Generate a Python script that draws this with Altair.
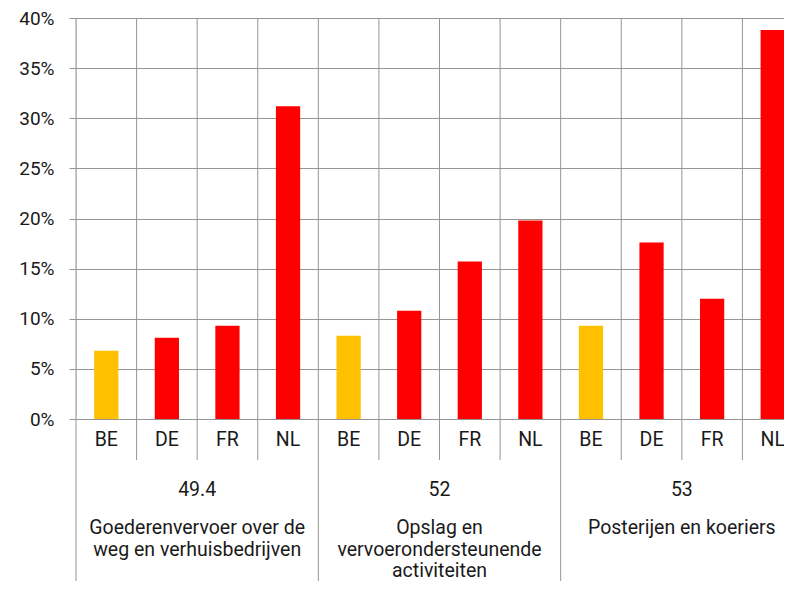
import altair as alt
import pandas as pd

# ---- data ----
group_codes = ["49.4", "52", "53"]
group_names = [
    "Goederenvervoer over de\nweg en verhuisbedrijven",
    "Opslag en\nvervoerondersteunende\nactiviteiten",
    "Posterijen en koeriers",
]
countries = ["BE", "DE", "FR", "NL"]
share_494 = [6.8, 8.1, 9.3, 31.2]
share_52 = [8.3, 10.8, 15.7, 19.8]
share_53 = [9.3, 17.6, 12.0, 38.8]
country_colors = ["#FFC000", "#FF0000", "#FF0000", "#FF0000"]
y_ticks = [0, 5, 10, 15, 20, 25, 30, 35, 40]

# ---- tables ----
rows = []
for code, vals in zip(group_codes, [share_494, share_52, share_53]):
    for c, v in zip(countries, vals):
        rows.append({"key": f"{code}|{c}", "group": code, "country": c, "value": v})
bars_df = pd.DataFrame(rows)
keys = list(bars_df["key"])
n = len(keys)
per_group = len(countries)

bound_df = pd.DataFrame({"idx": list(range(n + 1))})
bound_df["group_start"] = bound_df["idx"] % per_group == 0

groups_df = pd.DataFrame({
    "center": [i * per_group + per_group / 2 for i in range(len(group_codes))],
    "code": group_codes,
    "name": [s.split("\n") for s in group_names],
})

# visible plot area (page must not overflow); the category scale runs past the right edge
W, H = 708, 401
FULL_W = 727
FONT = "Roboto"
TXT = "#1a1a1a"
GRID = "#959595"

xq = alt.X("idx:Q", scale=alt.Scale(domain=[0, n], range=[0, FULL_W], nice=False, zero=False), axis=None)

bars = alt.Chart(bars_df).mark_bar().encode(
    x=alt.X(
        "key:N",
        sort=keys,
        scale=alt.Scale(paddingInner=0.6, paddingOuter=0.3, range=[0, FULL_W]),
        axis=alt.Axis(
            title=None,
            labelExpr="split(datum.label, '|')[1]",
            ticks=False,
            domain=False,
            grid=False,
            labelAngle=0,
            labelFont=FONT,
            labelFontSize=19.5,
            labelColor=TXT,
            labelPadding=11,
        ),
    ),
    y=alt.Y(
        "value:Q",
        scale=alt.Scale(domain=[0, 40], nice=False),
        axis=alt.Axis(
            title=None,
            values=y_ticks,
            labelExpr="datum.value + '%'",
            grid=True,
            gridColor=GRID,
            gridWidth=1,
            gridOpacity=1,
            tickSize=7,
            tickColor=GRID,
            domain=False,
            labelFont=FONT,
            labelFontSize=19,
            labelColor=TXT,
            labelPadding=15,
        ),
    ),
    color=alt.Color(
        "country:N",
        scale=alt.Scale(domain=countries, range=country_colors),
        legend=None,
    ),
)

vgrid = alt.Chart(bound_df).mark_rule(color=GRID, strokeWidth=1).encode(
    x=xq, y=alt.value(0), y2=alt.value(H)
)
inner_ticks = alt.Chart(bound_df).transform_filter(
    "!datum.group_start"
).mark_rule(color=GRID, strokeWidth=1).encode(
    x=xq, y=alt.value(H), y2=alt.value(H + 41)
)
group_lines = alt.Chart(bound_df).transform_filter(
    "datum.group_start"
).mark_rule(color=GRID, strokeWidth=1).encode(
    x=xq, y=alt.value(H), y2=alt.value(H + 200)
)

xc = alt.X("center:Q", scale=alt.Scale(domain=[0, n], range=[0, FULL_W], nice=False, zero=False), axis=None)
code_text = alt.Chart(groups_df).mark_text(
    font=FONT, fontSize=19.5, color=TXT, baseline="alphabetic", align="center"
).encode(x=xc, y=alt.value(H + 77), text="code:N")
name_text = alt.Chart(groups_df).mark_text(
    font=FONT, fontSize=19.5, color=TXT, baseline="alphabetic", align="center",
    lineHeight=21.5,
).encode(x=xc, y=alt.value(H + 115), text="name")

chart = alt.layer(
    vgrid, bars, inner_ticks, group_lines, code_text, name_text
).resolve_scale(x="independent").properties(
    width=W,
    height=H,
    autosize=alt.AutoSizeParams(type="none"),
    padding={"left": 68, "top": 10, "right": 0, "bottom": 162},
).configure_view(stroke=None).configure(background="white")

chart.save("out.html", embed_options={"renderer": "svg", "actions": False})
